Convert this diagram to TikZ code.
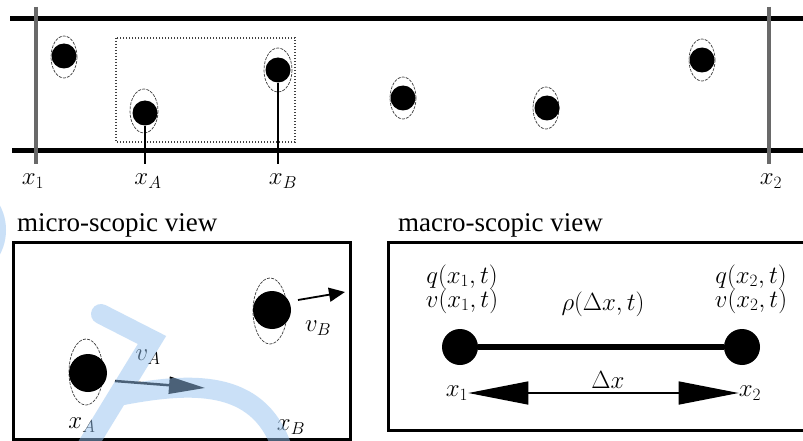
\documentclass[tikz,border=0pt]{standalone}
\usepackage{fontspec}
\setmainfont{Liberation Serif}
\usetikzlibrary{arrows.meta}
\definecolor{wm}{RGB}{150,195,240}
\definecolor{railgray}{RGB}{105,105,105}
\tikzset{
  rail/.style={line width=5pt, black},
  gate/.style={line width=3.5pt, railgray},
  stem/.style={line width=2.4pt, black},
  dotbox/.style={line width=1.5pt, black!75, dash pattern=on 1.2pt off 1.8pt},
  part/.style={circle, fill=black, inner sep=0pt, minimum size=25pt},
  bigpart/.style={circle, fill=black, inner sep=0pt, minimum size=38pt},
  mnode/.style={circle, fill=black, inner sep=0pt, minimum size=36pt},
  halo/.style={draw=black!75, line width=0.7pt, dash pattern=on 3pt off 1.2pt},
  lbl/.style={font=\fontsize{24}{26}\selectfont, inner sep=0pt},
  maclbl/.style={font=\fontsize{26}{28}\selectfont, inner sep=0pt},
  biglbl/.style={font=\fontsize{27}{29}\selectfont, inner sep=0pt},
  title/.style={font=\fontsize{27}{29}\selectfont, inner sep=0pt, anchor=west},
  frame/.style={line width=3pt, black},
  varrow/.style={line width=1.8pt, -{Triangle[length=16pt, width=14pt]}},
  dimarrow/.style={line width=1.5pt, {Triangle[length=60pt, width=23pt]}-{Triangle[length=60pt, width=23pt]}},
}
\begin{document}
\begin{tikzpicture}[x=1pt,y=-1pt]
\useasboundingbox (0,0) rectangle (803,441);
\fill[white] (0,0) rectangle (803,441);

% ---------- top strip ----------
\coordinate (rt1) at (10,19);   \coordinate (rt2) at (803,19);
\coordinate (rb1) at (12,151);  \coordinate (rb2) at (803,151);
\draw[rail] (rt1) -- (rt2);
\draw[rail] (rb1) -- (rb2);
\coordinate (g1t) at (36,7);   \coordinate (g1b) at (36,164);
\coordinate (g2t) at (769,7);  \coordinate (g2b) at (769,164);
\draw[gate] (g1t) -- (g1b);
\draw[gate] (g2t) -- (g2b);

\draw[dotbox] (116,38) rectangle (295,142);

% halos
\draw[halo] (64,57) ellipse [x radius=13, y radius=21];
\draw[halo] (144,111) ellipse [x radius=14, y radius=22];
\draw[halo] (278,70) ellipse [x radius=14, y radius=22];
\draw[halo] (403,98) ellipse [x radius=13, y radius=21];
\draw[halo] (546,108) ellipse [x radius=13, y radius=21];
\draw[halo] (702,60) ellipse [x radius=13, y radius=21];

\node[part] (p1) at (64,56) {};
\node[part] (pA) at (145,113) {};
\node[part] (pB) at (278,70) {};
\node[part] (p4) at (403,98) {};
\node[part] (p5) at (547,108) {};
\node[part] (p6) at (702,60) {};

\coordinate (sA) at (145,164);
\coordinate (sB) at (278,164);
\draw[stem] (pA) -- (sA);
\draw[stem] (pB) -- (sB);

\node[lbl] (lx1) at (33,181) {$x_1$};
\node[lbl] (lxA) at (148,181) {$x_A$};
\node[lbl] (lxB) at (283,181) {$x_B$};
\node[lbl] (lx2) at (771,181) {$x_2$};

% ---------- micro-scopic view ----------
\node[title] (tmicro) at (17,225) {micro-scopic view};
\draw[frame] (13,242) rectangle (350,439);

\draw[halo] (86,372) ellipse [x radius=17, y radius=33];
\draw[halo] (270,311) ellipse [x radius=17, y radius=33];
\node[bigpart] (mA) at (88,373) {};
\node[bigpart] (mB) at (272,310) {};

\coordinate (vBs) at (298,300); \coordinate (vBe) at (345,292);
\draw[varrow] (vBs) -- (vBe);
\node[lbl] (lvB) at (318,328) {$v_B$};

\coordinate (vAs) at (115,381); \coordinate (vAe) at (205,388);
\draw[line width=2.5pt, -{Triangle[length=36pt, width=17pt]}] (vAs) -- (vAe);
\node[lbl] (lvA) at (148,357) {$v_A$};

\node[biglbl] (mxA) at (82,425) {$x_A$};
\node[biglbl] (mxB) at (291,427) {$x_B$};

% ---------- macro-scopic view ----------
\node[title] (tmacro) at (398,225) {macro-scopic view};
\draw[frame] (388,242) rectangle (812,430);

\node[mnode] (n1) at (460,347) {};
\node[mnode] (n2) at (742,347) {};
\draw[line width=5.5pt] (n1) -- (n2);

\node[maclbl] (q1) at (462,277) {$q(x_1,t)$};
\node[maclbl] (v1) at (462,301) {$v(x_1,t)$};
\node[maclbl] (q2) at (751,277) {$q(x_2,t)$};
\node[maclbl] (v2) at (751,301) {$v(x_2,t)$};
\node[maclbl] (rho) at (603,304) {$\rho(\Delta x,t)$};

\node[lbl] (mx1) at (457,393) {$x_1$};
\node[lbl] (mx2) at (750,393) {$x_2$};
\draw[dimarrow] (mx1.east) -- (mx2.west);
\node[maclbl] (dx) at (608,380) {$\Delta x$};

% ---------- light-blue overlay strokes ----------
\draw[wm, opacity=0.5, line width=20pt, line cap=round, line join=miter]
  (101,314) -- (152,340) -- (86,448)
  (118,396) .. controls (190,382) and (258,378) .. (282,448);
\fill[wm, opacity=0.5] (-30,230) ellipse [x radius=36, y radius=44];
\end{tikzpicture}
\end{document}
